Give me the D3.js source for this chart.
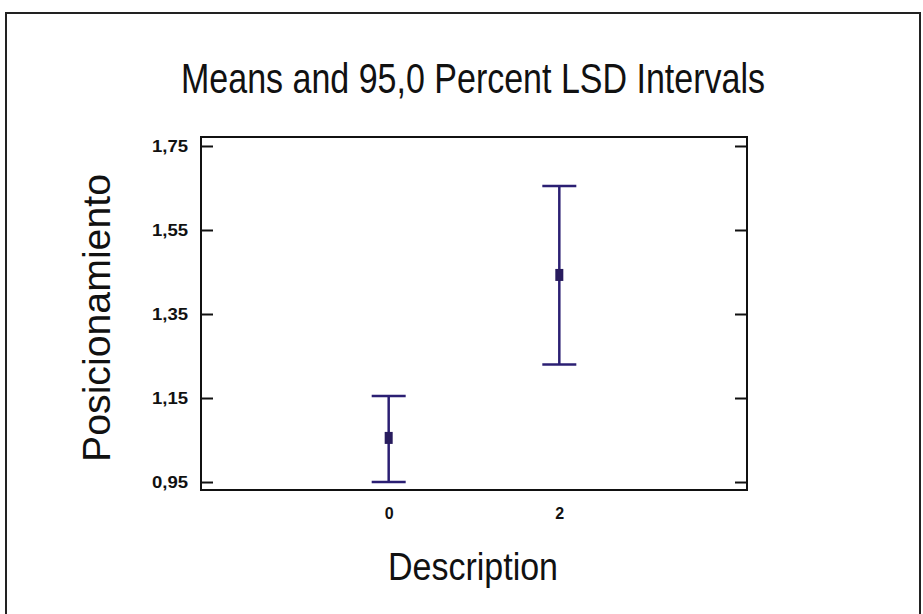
<!DOCTYPE html>
<html><head><meta charset="utf-8">
<script src="https://cdn.jsdelivr.net/npm/d3@7"></script>
<style>body{margin:0;background:#fff}svg{display:block}</style>
</head><body>
<script>
const categories = ["0", "2"];
const means = [1.055, 1.443];
const lower = [0.95, 1.23];
const upper = [1.155, 1.655];
const yTicks = [0.95, 1.15, 1.35, 1.55, 1.75];
const yTickLabels = ["0,95", "1,15", "1,35", "1,55", "1,75"];
const title = "Means and 95,0 Percent LSD Intervals";
const xTitle = "Description";
const yTitle = "Posicionamiento";

const W = 923, H = 614;
const svg = d3.select("body").append("svg").attr("width", W).attr("height", H);
svg.append("rect").attr("width", W).attr("height", H).attr("fill", "#fff");
svg.append("rect").attr("x", 6).attr("y", 13).attr("width", 914).attr("height", 620)
  .attr("fill", "none").attr("stroke", "#222").attr("stroke-width", 2);

const L = 201, R = 747, T = 137, B = 490;
const y = d3.scaleLinear().domain([0.931, 1.7714]).range([B, T]);
const x = d3.scalePoint().domain(categories).range([L, R]).padding(1.1);

const font = "'Liberation Sans Narrow', 'Liberation Sans', Arial, sans-serif";

// frame
svg.append("rect").attr("x", L).attr("y", T).attr("width", R - L).attr("height", B - T)
  .attr("fill", "none").attr("stroke", "#111").attr("stroke-width", 2);

// left / right inward ticks
const yl = svg.append("g").attr("transform", `translate(${L},0)`)
  .call(d3.axisRight(y).tickValues(yTicks).tickSize(12).tickFormat(""));
yl.select(".domain").remove();
yl.selectAll("line").attr("stroke", "#111").attr("stroke-width", 2);
const yr = svg.append("g").attr("transform", `translate(${R},0)`)
  .call(d3.axisLeft(y).tickValues(yTicks).tickSize(12).tickFormat(""));
yr.select(".domain").remove();
yr.selectAll("line").attr("stroke", "#111").attr("stroke-width", 2);

// y tick labels
svg.append("g").selectAll("text").data(yTicks).join("text")
  .attr("x", 188).attr("y", d => y(d)).attr("dy", "0.35em")
  .attr("text-anchor", "end").attr("font-family", font).attr("font-weight", "bold")
  .attr("font-size", 16).attr("fill", "#111")
  .attr("textLength", 36).attr("lengthAdjust", "spacingAndGlyphs")
  .text((d, i) => yTickLabels[i]);

// x axis labels
const xa = svg.append("g").attr("transform", `translate(0,${B})`)
  .call(d3.axisBottom(x).tickSize(0).tickPadding(18));
xa.select(".domain").remove();
xa.selectAll("text").attr("font-family", font).attr("font-weight", "bold").attr("font-size", 16).attr("fill", "#111");

// error bars
const col = "#2b1f73";
const g = svg.append("g");
categories.forEach((c, i) => {
  const cx = x(c);
  g.append("line").attr("x1", cx).attr("x2", cx).attr("y1", y(lower[i])).attr("y2", y(upper[i]))
    .attr("stroke", col).attr("stroke-width", 2.5);
  [lower[i], upper[i]].forEach(v => {
    g.append("line").attr("x1", cx - 17).attr("x2", cx + 17).attr("y1", y(v)).attr("y2", y(v))
      .attr("stroke", col).attr("stroke-width", 2.5);
  });
  g.append("rect").attr("x", cx - 4).attr("y", y(means[i]) - 6).attr("width", 8).attr("height", 12)
    .attr("fill", "#281c5e");
});

// titles
svg.append("text").attr("x", 473).attr("y", 93).attr("text-anchor", "middle")
  .attr("font-family", font).attr("font-size", 42).attr("fill", "#111")
  .attr("textLength", 584).attr("lengthAdjust", "spacingAndGlyphs").text(title);
svg.append("text").attr("x", 473).attr("y", 580).attr("text-anchor", "middle")
  .attr("font-family", font).attr("font-size", 38).attr("fill", "#111")
  .attr("textLength", 170).attr("lengthAdjust", "spacingAndGlyphs").text(xTitle);
svg.append("text").attr("transform", "translate(110,318) rotate(-90)").attr("text-anchor", "middle")
  .attr("font-family", font).attr("font-size", 38).attr("fill", "#111")
  .attr("textLength", 288).attr("lengthAdjust", "spacingAndGlyphs").text(yTitle);
</script>
</body></html>
